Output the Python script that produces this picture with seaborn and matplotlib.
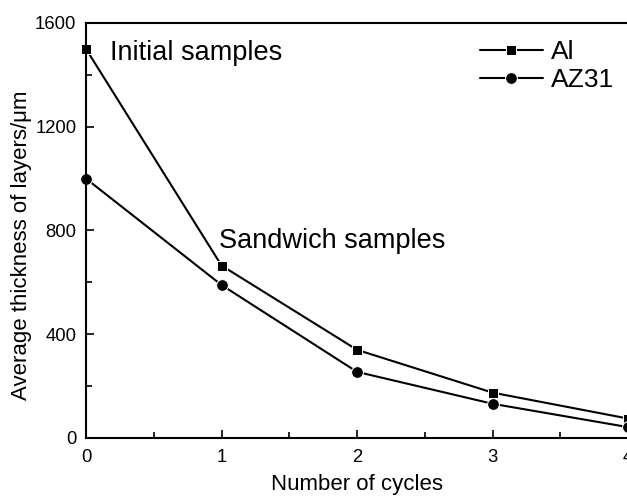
import matplotlib
matplotlib.use("Agg")
import matplotlib.pyplot as plt
import seaborn as sns
import pandas as pd
from matplotlib.ticker import MultipleLocator

cycles = [0, 1, 2, 3, 4]
al_values = [1500, 665, 340, 175, 75]
az31_values = [1000, 590, 255, 132, 42]

sns.set_style("ticks")
plt.rcParams['font.family'] = ['Liberation Sans', 'DejaVu Sans']
plt.rcParams['text.color'] = 'black'
plt.rcParams['axes.labelcolor'] = 'black'
plt.rcParams['xtick.color'] = 'black'
plt.rcParams['ytick.color'] = 'black'

fig = plt.figure(figsize=(6.27, 5.01), dpi=100)
ax = fig.add_axes([86/627, 1-438/501, (628-86)/627, (438-23)/501])

df = pd.DataFrame({"cycles": cycles * 2,
                   "thickness": al_values + az31_values,
                   "series": ["Al"] * 5 + ["AZ31"] * 5})

sns.lineplot(data=df[df.series == "Al"], x="cycles", y="thickness", color="black",
             marker="s", markersize=7.5, linewidth=1.5, label="Al", ax=ax, clip_on=False)
sns.lineplot(data=df[df.series == "AZ31"], x="cycles", y="thickness", color="black",
             marker="o", markersize=8.5, linewidth=1.5, label="AZ31", ax=ax, clip_on=False)

ax.set_xlim(0, 4)
ax.set_ylim(0, 1600)
ax.xaxis.set_major_locator(MultipleLocator(1))
ax.xaxis.set_minor_locator(MultipleLocator(0.5))
ax.yaxis.set_major_locator(MultipleLocator(400))
ax.yaxis.set_minor_locator(MultipleLocator(200))
ax.tick_params(which="both", direction="in", top=False, right=False, labelsize=13.3, width=1.2,
               colors="black")
ax.tick_params(which="major", length=6)
ax.tick_params(which="minor", length=4)
ax.tick_params(axis="x", which="major", pad=8)
ax.tick_params(axis="y", which="major", pad=7)
for s in ["left", "bottom", "top"]:
    ax.spines[s].set_linewidth(1.5)
    ax.spines[s].set_color("black")
ax.spines["right"].set_visible(False)

ax.set_xlabel("Number of cycles", fontsize=16, labelpad=6)
ax.set_ylabel("Average thickness of layers/μm", fontsize=16)
ax.yaxis.set_label_coords(-0.1, 0.465)

ax.text(0.18, 1485, "Initial samples", fontsize=19.5, va="center", ha="left")
ax.text(0.98, 760, "Sandwich samples", fontsize=19.5, va="center", ha="left")

leg = ax.legend(loc="upper right", frameon=False, fontsize=19, handlelength=2.4,
                handletextpad=0.3, labelspacing=0.15, bbox_to_anchor=(1.018, 1.016))

fig.savefig("out.png", dpi=100)
